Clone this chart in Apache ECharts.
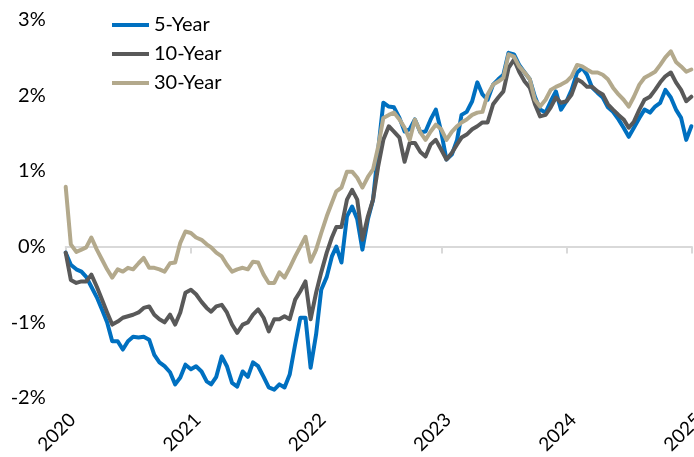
<!DOCTYPE html>
<html>
<head>
<meta charset="utf-8">
<script src="https://cdn.jsdelivr.net/npm/echarts@6/dist/echarts.min.js"></script>
<style>
  html, body { margin: 0; padding: 0; background: #ffffff; }
  #chart { width: 694px; height: 457px; }
</style>
</head>
<body>
<div id="chart"></div>
<script>
// Real yields on Treasury inflation-protected securities, in percent,
// sampled on the 1st and 16th of each month from Jan 2020 to the end of 2024.
const seriesNames = ['5-Year', '10-Year', '30-Year'];
const yearTicks = [2020, 2021, 2022, 2023, 2024, 2025];

const fiveYear = [
  -0.08, -0.24, -0.30, -0.33, -0.40, -0.53, -0.67, -0.83, -1.00, -1.25,
  -1.25, -1.36, -1.25, -1.19, -1.20, -1.19, -1.23, -1.43, -1.53, -1.58,
  -1.66, -1.82, -1.73, -1.56, -1.62, -1.58, -1.65, -1.78, -1.82, -1.72,
  -1.45, -1.58, -1.80, -1.85, -1.65, -1.72, -1.53, -1.58, -1.72, -1.86,
  -1.89, -1.82, -1.86, -1.69, -1.29, -0.94, -0.94, -1.60, -1.16, -0.57,
  -0.40, -0.13, 0.00, -0.21, 0.40, 0.53, 0.36, -0.04, 0.36, 0.62,
  1.28, 1.90, 1.85, 1.84, 1.70, 1.52, 1.55, 1.68, 1.51, 1.52,
  1.68, 1.81, 1.51, 1.15, 1.22, 1.41, 1.74, 1.78, 1.92, 2.17,
  2.01, 1.94, 2.14, 2.21, 2.27, 2.56, 2.54, 2.40, 2.30, 2.21,
  1.98, 1.81, 1.77, 1.92, 2.05, 1.81, 1.92, 2.07, 2.30, 2.36,
  2.27, 2.10, 2.03, 1.97, 1.84, 1.78, 1.68, 1.57, 1.45, 1.57,
  1.70, 1.81, 1.77, 1.85, 1.90, 2.07, 1.97, 1.81, 1.70, 1.41,
  1.59
];

const tenYear = [
  -0.08, -0.44, -0.48, -0.46, -0.46, -0.37, -0.53, -0.70, -0.87, -1.03,
  -0.99, -0.94, -0.92, -0.90, -0.87, -0.81, -0.79, -0.90, -0.96, -1.00,
  -0.90, -1.03, -0.87, -0.61, -0.57, -0.63, -0.73, -0.81, -0.86, -0.79,
  -0.77, -0.87, -1.03, -1.14, -1.03, -1.00, -0.90, -0.83, -0.94, -1.12,
  -0.96, -0.96, -0.92, -0.96, -0.70, -0.59, -0.46, -0.96, -0.61, -0.34,
  -0.08, 0.12, 0.26, 0.26, 0.62, 0.75, 0.62, 0.09, 0.40, 0.62,
  1.06, 1.41, 1.59, 1.52, 1.44, 1.12, 1.37, 1.37, 1.25, 1.19,
  1.35, 1.41, 1.28, 1.15, 1.24, 1.35, 1.44, 1.48, 1.55, 1.59,
  1.64, 1.64, 1.88, 1.97, 2.05, 2.36, 2.47, 2.31, 2.18, 2.10,
  1.88, 1.72, 1.74, 1.84, 1.97, 1.90, 1.92, 2.01, 2.21, 2.17,
  2.11, 2.11, 2.05, 2.01, 1.88, 1.81, 1.74, 1.68, 1.57, 1.65,
  1.81, 1.94, 1.98, 2.07, 2.17, 2.25, 2.30, 2.17, 2.07, 1.92,
  1.98
];

const thirtyYear = [
  0.79, 0.03, -0.07, -0.04, -0.01, 0.12, -0.04, -0.17, -0.30, -0.41,
  -0.30, -0.33, -0.28, -0.30, -0.22, -0.15, -0.28, -0.28, -0.30, -0.33,
  -0.22, -0.21, 0.05, 0.20, 0.18, 0.12, 0.09, 0.03, -0.01, -0.08,
  -0.13, -0.24, -0.33, -0.30, -0.28, -0.30, -0.20, -0.21, -0.37, -0.48,
  -0.48, -0.34, -0.41, -0.28, -0.13, 0.00, 0.13, -0.20, -0.04, 0.18,
  0.40, 0.58, 0.73, 0.78, 0.99, 0.99, 0.91, 0.78, 0.92, 1.02,
  1.32, 1.70, 1.74, 1.77, 1.68, 1.57, 1.41, 1.68, 1.51, 1.41,
  1.52, 1.61, 1.55, 1.41, 1.52, 1.59, 1.64, 1.68, 1.74, 1.77,
  1.78, 2.01, 2.14, 2.18, 2.23, 2.54, 2.51, 2.38, 2.30, 2.21,
  1.94, 1.85, 1.94, 2.07, 2.11, 2.14, 2.18, 2.25, 2.40, 2.38,
  2.34, 2.30, 2.30, 2.27, 2.21, 2.10, 2.01, 1.94, 1.85, 1.98,
  2.14, 2.23, 2.27, 2.31, 2.40, 2.50, 2.58, 2.44, 2.38, 2.31,
  2.34
];

const pad = n => (n < 10 ? '0' : '') + n;
const dates = [];
for (let y = 2020; y < 2025; y++) {
  for (let m = 1; m <= 12; m++) {
    dates.push(`${y}-${pad(m)}-01`, `${y}-${pad(m)}-16`);
  }
}
dates.push('2024-12-31');

// Date string -> fractional year, so the x axis can tick on whole years.
function toYear(s) {
  const [y, m, d] = s.split('-').map(Number);
  const start = Date.UTC(y, 0, 1);
  const end = Date.UTC(y + 1, 0, 1);
  return y + (Date.UTC(y, m - 1, d) - start) / (end - start);
}
const xYears = dates.map(toYear);
const pairs = vals => vals.map((v, i) => [xYears[i], v]);

const FONT = 'Lato';
const colors = ['#0070C0', '#595959', '#B3A98C'];
const values = [fiveYear, tenYear, thirtyYear];

const chart = echarts.init(document.getElementById('chart'), null, { renderer: 'canvas' });
chart.setOption({
  animation: false,
  backgroundColor: '#ffffff',
  color: colors,
  grid: {
    left: 65.7, right: 2.3, top: 19.5, bottom: 59,
    containLabel: false,
    outerBoundsMode: 'none'
  },
  legend: {
    orient: 'vertical',
    left: 107,
    top: 10,
    icon: 'rect',
    itemWidth: 37,
    itemHeight: 4,
    itemGap: 9,
    data: seriesNames,
    textStyle: { fontFamily: FONT, fontSize: 20, color: '#000000', lineHeight: 20 }
  },
  xAxis: [
    {
      // baseline drawn at 0% with downward year ticks
      type: 'value',
      min: yearTicks[0],
      max: yearTicks[yearTicks.length - 1],
      interval: 1,
      axisLine: { show: true, onZero: true, lineStyle: { color: '#D9D9D9', width: 2 } },
      axisTick: { show: true, length: 7, lineStyle: { color: '#D9D9D9', width: 2 } },
      axisLabel: { show: false },
      splitLine: { show: false }
    },
    {
      // year labels along the bottom edge
      type: 'value',
      position: 'bottom',
      min: yearTicks[0],
      max: yearTicks[yearTicks.length - 1],
      interval: 1,
      axisLine: { show: false, onZero: false },
      axisTick: { show: false },
      splitLine: { show: false },
      axisLabel: {
        show: true,
        rotate: 45,
        margin: 12,
        verticalAlign: 'top',
        showMinLabel: true,
        showMaxLabel: true,
        fontFamily: FONT,
        fontSize: 19,
        color: '#000000',
        formatter: v => String(v)
      }
    }
  ],
  yAxis: {
    type: 'value',
    min: -2,
    max: 3,
    interval: 1,
    axisLine: { show: false },
    axisTick: { show: false },
    splitLine: { show: false },
    axisLabel: {
      margin: 20,
      fontFamily: FONT,
      fontSize: 20,
      color: '#000000',
      formatter: v => v + '%'
    }
  },
  series: seriesNames.map((name, i) => ({
    name,
    type: 'line',
    xAxisIndex: 0,
    data: pairs(values[i]),
    showSymbol: false,
    symbol: 'none',
    lineStyle: { width: 4, color: colors[i], join: 'round', cap: 'round' },
    itemStyle: { color: colors[i] },
    z: 2 + i
  }))
});
</script>
</body>
</html>
